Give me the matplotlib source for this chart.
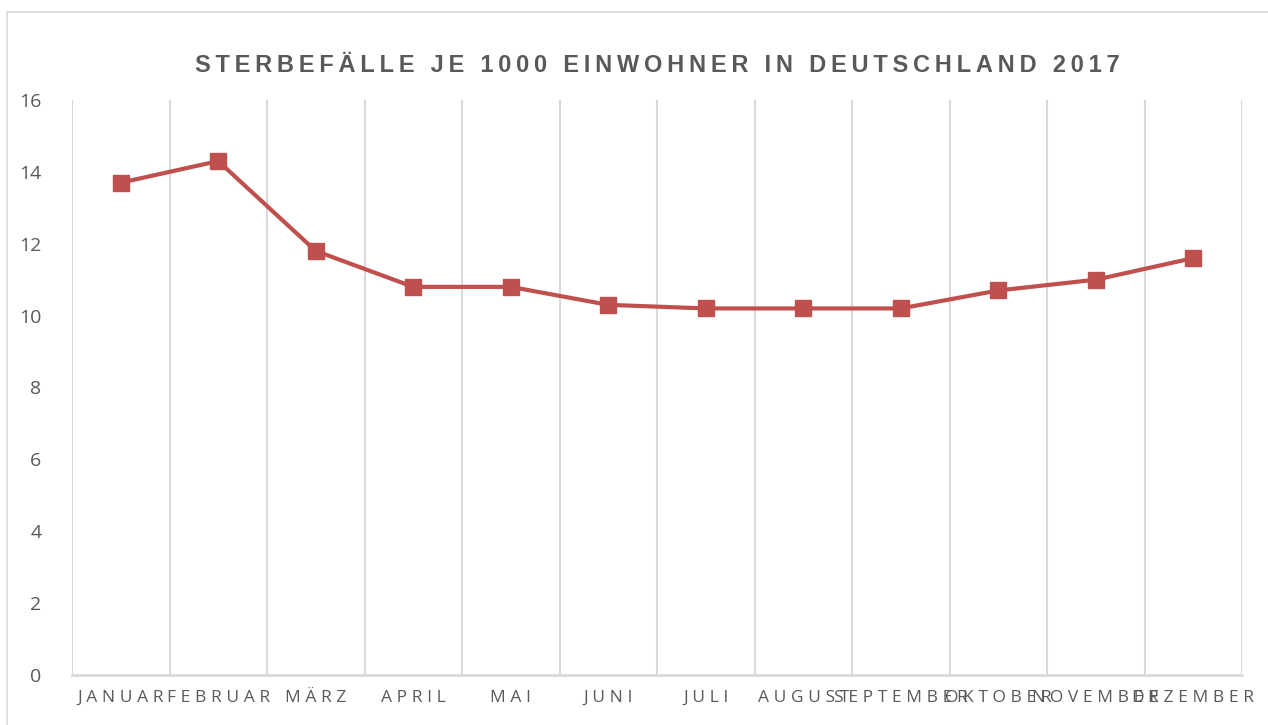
import matplotlib
matplotlib.use("Agg")
import matplotlib.pyplot as plt
from matplotlib.patches import Rectangle

months = ["Januar", "Februar", "März", "April", "Mai", "Juni", "Juli",
          "August", "September", "Oktober", "November", "Dezember"]
deaths_per_1000 = [13.7, 14.3, 11.8, 10.8, 10.8, 10.3, 10.2, 10.2, 10.2, 10.7, 11.0, 11.6]
y_ticks = [0, 2, 4, 6, 8, 10, 12, 14, 16]
title = "Sterbefälle je 1000 Einwohner in Deutschland 2017"

LINE_RED = "#C0504D"
TEXT_GRAY = "#595959"
GRID_GRAY = "#D9D9D9"


def spaced(s, sep="\u2009"):
    # poor man's letter spacing
    return sep.join(s)


fig = plt.figure(figsize=(12.68, 7.25), dpi=100)
fig.patches.append(Rectangle((7 / 1268, -0.01), 1.02, 1 - 12 / 725 + 0.01,
                             transform=fig.transFigure, fill=False,
                             edgecolor=GRID_GRAY, linewidth=1.2))

ax = fig.add_axes([72 / 1268, 1 - 675 / 725, (1242 - 72) / 1268, (675 - 100) / 725])

x = list(range(len(months)))
ax.plot(x, deaths_per_1000, color=LINE_RED, linewidth=3, marker="s",
        markersize=12, zorder=3)

ax.set_xlim(-0.5, len(months) - 0.5)
ax.set_ylim(0, 16)
ax.set_yticks(y_ticks)
ax.set_yticklabels([str(v) for v in y_ticks], fontsize=14, color=TEXT_GRAY,
                   family=["Open Sans", "DejaVu Sans"])
ax.set_xticks(x)
ax.set_xticklabels([spaced(m.upper(), "\u2009\u200a") for m in months], fontsize=12.5,
                   color=TEXT_GRAY, family=["Open Sans", "DejaVu Sans"])
ax.tick_params(axis="both", length=0)
ax.tick_params(axis="y", pad=22)
ax.tick_params(axis="x", pad=11)

for b in [i - 0.5 for i in range(len(months) + 1)]:
    ax.axvline(b, color=GRID_GRAY, linewidth=1.5, zorder=1)

for side in ["top", "right", "left"]:
    ax.spines[side].set_visible(False)
ax.spines["bottom"].set_color(GRID_GRAY)
ax.spines["bottom"].set_linewidth(2)

fig.text((72 + 1242) / 2 / 1268, 1 - 66 / 725, spaced(title.upper(), "\u2009"),
         ha="center", va="center", fontsize=17, fontweight="bold",
         color=TEXT_GRAY, family=["Liberation Sans", "DejaVu Sans"])

fig.savefig("out.png", dpi=100)
